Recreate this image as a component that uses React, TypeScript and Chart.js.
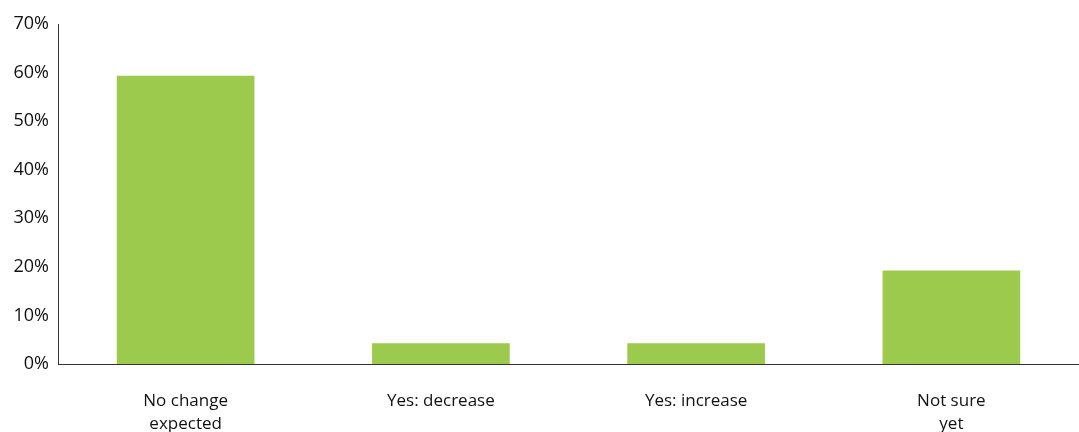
import React, { useEffect, useRef } from "react";
import { Chart, registerables } from "chart.js";

Chart.register(...registerables);

const categories: (string | string[])[] = [
  ["No change", "expected"],
  "Yes: decrease",
  "Yes: increase",
  ["Not sure", "yet"],
];
const shares: number[] = [59.3, 4.2, 4.2, 19.2];
const yTicks: number[] = [0, 10, 20, 30, 40, 50, 60, 70];

const BAR_COLOR = "#9bca4c";
const TEXT_COLOR = "#111111";
const FONT = "'Open Sans', 'Noto Sans', sans-serif";

export default function App() {
  const canvasRef = useRef<HTMLCanvasElement | null>(null);

  useEffect(() => {
    document.body.style.margin = "0";
    const canvas = canvasRef.current;
    if (!canvas) return;
    const chart = new Chart(canvas, {
      type: "bar",
      data: {
        labels: categories,
        datasets: [
          {
            data: shares,
            backgroundColor: BAR_COLOR,
            borderWidth: 0,
            barThickness: 137,
          },
        ],
      },
      options: {
        animation: false,
        responsive: false,
        maintainAspectRatio: false,
        layout: { padding: { top: 24, right: 0, left: 0, bottom: 0 } },
        plugins: {
          legend: { display: false },
          tooltip: { enabled: false },
        },
        scales: {
          x: {
            grid: { display: false, drawTicks: false },
            border: { display: true, color: "#333333", width: 1 },
            ticks: {
              color: TEXT_COLOR,
              font: { family: FONT, size: 17, weight: "500", lineHeight: 1.38 },
              padding: 25,
              maxRotation: 0,
              autoSkip: false,
            },
            afterFit: (scale: any) => {
              scale.height = 68;
            },
          },
          y: {
            min: 0,
            max: 70,
            afterBuildTicks: (scale: any) => {
              scale.ticks = yTicks.map((v) => ({ value: v }));
            },
            grid: { display: false, drawTicks: false },
            border: { display: true, color: "#333333", width: 1 },
            ticks: {
              color: TEXT_COLOR,
              font: { family: FONT, size: 18, weight: "500" },
              padding: 9,
              callback: (v: any) => `${v}%`,
            },
            afterFit: (scale: any) => {
              scale.width = 58;
            },
          },
        },
      },
    });
    return () => chart.destroy();
  }, []);

  return (
    <div style={{ position: "fixed", left: 0, top: 0, width: 1079, height: 432, background: "#fff" }}>
      <canvas ref={canvasRef} width={1079} height={432} style={{ width: 1079, height: 432 }} />
    </div>
  );
}
